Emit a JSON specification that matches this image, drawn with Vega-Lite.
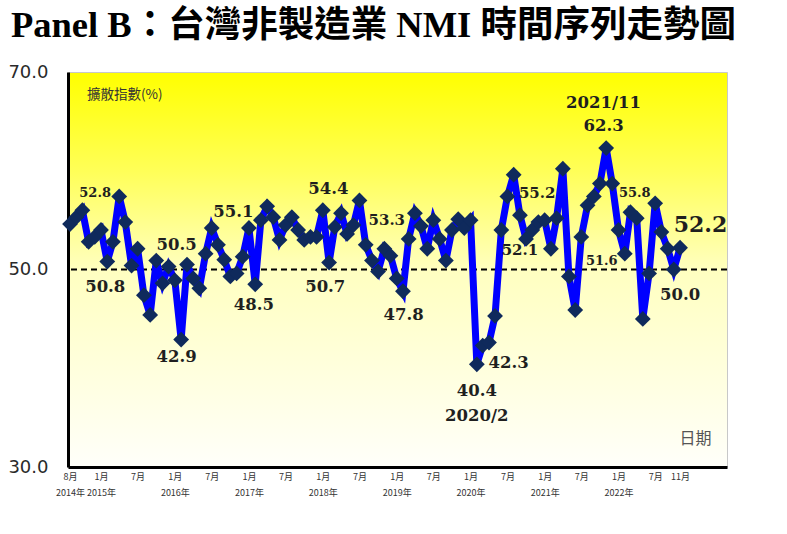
{
  "$schema": "https://vega.github.io/schema/vega-lite/v6.json",
  "width": 659,
  "height": 395,
  "autosize": {"type": "none"},
  "padding": {"left": 68, "top": 72, "right": 60, "bottom": 67},
  "background": "#ffffff",
  "title": {
    "text": "Panel B：台灣非製造業 NMI 時間序列走勢圖",
    "anchor": "start",
    "frame": "group",
    "font": "Liberation Serif, Noto Sans CJK TC",
    "fontSize": 36.5,
    "fontWeight": "bold",
    "color": "#000000",
    "dx": -57,
    "dy": 34,
    "offset": 24,
    "baseline": "alphabetic"
  },
  "config": {
    "view": {
      "stroke": "#c8c8c8",
      "strokeWidth": 1,
      "fill": {
        "gradient": "linear",
        "x1": 0, "y1": 0, "x2": 0, "y2": 1,
        "stops": [
          {"offset": 0, "color": "#ffff00"},
          {"offset": 0.25, "color": "#ffff58"},
          {"offset": 0.5, "color": "#ffffc0"},
          {"offset": 1, "color": "#fffffa"}
        ]
      }
    }
  },
  "datasets": {
    "nmi": [
      {"date": "2014-08-01", "value": 54.6},
      {"date": "2014-09-01", "value": 55.3},
      {"date": "2014-10-01", "value": 56.0},
      {"date": "2014-11-01", "value": 52.8},
      {"date": "2014-12-01", "value": 53.3},
      {"date": "2015-01-01", "value": 54.0},
      {"date": "2015-02-01", "value": 50.8},
      {"date": "2015-03-01", "value": 52.8},
      {"date": "2015-04-01", "value": 57.4},
      {"date": "2015-05-01", "value": 54.8},
      {"date": "2015-06-01", "value": 50.4},
      {"date": "2015-07-01", "value": 52.1},
      {"date": "2015-08-01", "value": 47.4},
      {"date": "2015-09-01", "value": 45.4},
      {"date": "2015-10-01", "value": 50.9},
      {"date": "2015-11-01", "value": 48.6},
      {"date": "2015-12-01", "value": 50.3},
      {"date": "2016-01-01", "value": 48.9},
      {"date": "2016-02-01", "value": 42.9},
      {"date": "2016-03-01", "value": 50.5},
      {"date": "2016-04-01", "value": 49.1},
      {"date": "2016-05-01", "value": 48.1},
      {"date": "2016-06-01", "value": 51.6},
      {"date": "2016-07-01", "value": 54.2},
      {"date": "2016-08-01", "value": 52.5},
      {"date": "2016-09-01", "value": 51.0},
      {"date": "2016-10-01", "value": 49.3},
      {"date": "2016-11-01", "value": 49.6},
      {"date": "2016-12-01", "value": 51.3},
      {"date": "2017-01-01", "value": 54.2},
      {"date": "2017-02-01", "value": 48.5},
      {"date": "2017-03-01", "value": 55.0},
      {"date": "2017-04-01", "value": 56.4},
      {"date": "2017-05-01", "value": 55.3},
      {"date": "2017-06-01", "value": 53.0},
      {"date": "2017-07-01", "value": 54.5},
      {"date": "2017-08-01", "value": 55.3},
      {"date": "2017-09-01", "value": 54.0},
      {"date": "2017-10-01", "value": 53.0},
      {"date": "2017-11-01", "value": 53.3},
      {"date": "2017-12-01", "value": 53.3},
      {"date": "2018-01-01", "value": 56.0},
      {"date": "2018-02-01", "value": 50.7},
      {"date": "2018-03-01", "value": 54.3},
      {"date": "2018-04-01", "value": 55.7},
      {"date": "2018-05-01", "value": 53.6},
      {"date": "2018-06-01", "value": 54.5},
      {"date": "2018-07-01", "value": 57.0},
      {"date": "2018-08-01", "value": 52.5},
      {"date": "2018-09-01", "value": 50.9},
      {"date": "2018-10-01", "value": 49.8},
      {"date": "2018-11-01", "value": 52.1},
      {"date": "2018-12-01", "value": 51.4},
      {"date": "2019-01-01", "value": 49.1},
      {"date": "2019-02-01", "value": 47.8},
      {"date": "2019-03-01", "value": 53.1},
      {"date": "2019-04-01", "value": 55.7},
      {"date": "2019-05-01", "value": 54.4},
      {"date": "2019-06-01", "value": 52.1},
      {"date": "2019-07-01", "value": 55.0},
      {"date": "2019-08-01", "value": 53.1},
      {"date": "2019-09-01", "value": 50.9},
      {"date": "2019-10-01", "value": 54.0},
      {"date": "2019-11-01", "value": 55.1},
      {"date": "2019-12-01", "value": 54.2},
      {"date": "2020-01-01", "value": 55.0},
      {"date": "2020-02-01", "value": 40.4},
      {"date": "2020-03-01", "value": 42.3},
      {"date": "2020-04-01", "value": 42.6},
      {"date": "2020-05-01", "value": 45.3},
      {"date": "2020-06-01", "value": 54.0},
      {"date": "2020-07-01", "value": 57.4},
      {"date": "2020-08-01", "value": 59.6},
      {"date": "2020-09-01", "value": 55.5},
      {"date": "2020-10-01", "value": 53.1},
      {"date": "2020-11-01", "value": 54.0},
      {"date": "2020-12-01", "value": 54.8},
      {"date": "2021-01-01", "value": 55.0},
      {"date": "2021-02-01", "value": 52.1},
      {"date": "2021-03-01", "value": 55.2},
      {"date": "2021-04-01", "value": 60.2},
      {"date": "2021-05-01", "value": 49.3},
      {"date": "2021-06-01", "value": 45.9},
      {"date": "2021-07-01", "value": 53.3},
      {"date": "2021-08-01", "value": 56.5},
      {"date": "2021-09-01", "value": 57.4},
      {"date": "2021-10-01", "value": 58.7},
      {"date": "2021-11-01", "value": 62.3},
      {"date": "2021-12-01", "value": 58.7},
      {"date": "2022-01-01", "value": 54.0},
      {"date": "2022-02-01", "value": 51.6},
      {"date": "2022-03-01", "value": 55.8},
      {"date": "2022-04-01", "value": 55.2},
      {"date": "2022-05-01", "value": 45.0},
      {"date": "2022-06-01", "value": 49.6},
      {"date": "2022-07-01", "value": 56.7},
      {"date": "2022-08-01", "value": 53.8},
      {"date": "2022-09-01", "value": 52.1},
      {"date": "2022-10-01", "value": 50.0},
      {"date": "2022-11-01", "value": 52.2}
    ],
    "labelsMid": [
      {"date": "2015-01-22", "value": 48.2, "text": "50.8"},
      {"date": "2016-01-10", "value": 52.5, "text": "50.5"},
      {"date": "2016-01-10", "value": 41.1, "text": "42.9"},
      {"date": "2016-10-16", "value": 55.8, "text": "55.1"},
      {"date": "2017-01-25", "value": 46.4, "text": "48.5"},
      {"date": "2018-01-28", "value": 58.2, "text": "54.4"},
      {"date": "2018-01-13", "value": 48.2, "text": "50.7"},
      {"date": "2019-02-04", "value": 45.4, "text": "47.8"},
      {"date": "2020-02-01", "value": 37.7, "text": "40.4"},
      {"date": "2020-02-01", "value": 35.2, "text": "2020/2"},
      {"date": "2020-07-07", "value": 40.5, "text": "42.3"},
      {"date": "2021-10-19", "value": 66.85, "text": "2021/11"},
      {"date": "2021-10-19", "value": 64.5, "text": "62.3"},
      {"date": "2022-11-01", "value": 47.4, "text": "50.0"}
    ],
    "labelsSmall": [
      {"date": "2018-11-13", "value": 55.0, "text": "53.3"},
      {"date": "2020-09-01", "value": 52.0, "text": "52.1"},
      {"date": "2020-11-25", "value": 57.7, "text": "55.2"}
    ],
    "labelsTiny": [
      {"date": "2014-12-03", "value": 57.7, "text": "52.8"},
      {"date": "2021-10-10", "value": 50.9, "text": "51.6"},
      {"date": "2022-03-22", "value": 57.7, "text": "55.8"}
    ],
    "labelsBig": [
      {"date": "2023-02-10", "value": 54.5, "text": "52.2"}
    ],
    "notes": [
      {"date": "2015-04-28", "value": 67.7, "text": "擴散指數(%)", "kind": "y"},
      {"date": "2023-01-16", "value": 32.8, "text": "日期", "kind": "x"}
    ]
  },
  "encoding": {
    "x": {
      "field": "date",
      "type": "temporal",
      "scale": {
        "type": "utc",
        "domain": [
          {"year": 2014, "month": "jul", "date": 22, "utc": true},
          {"year": 2023, "month": "jun", "date": 21, "utc": true}
        ]
      },
      "axis": {
        "title": null,
        "values": [
          {"year": 2014, "month": "aug", "date": 1, "utc": true},
          {"year": 2015, "month": "jan", "date": 1, "utc": true},
          {"year": 2015, "month": "jul", "date": 1, "utc": true},
          {"year": 2016, "month": "jan", "date": 1, "utc": true},
          {"year": 2016, "month": "jul", "date": 1, "utc": true},
          {"year": 2017, "month": "jan", "date": 1, "utc": true},
          {"year": 2017, "month": "jul", "date": 1, "utc": true},
          {"year": 2018, "month": "jan", "date": 1, "utc": true},
          {"year": 2018, "month": "jul", "date": 1, "utc": true},
          {"year": 2019, "month": "jan", "date": 1, "utc": true},
          {"year": 2019, "month": "jul", "date": 1, "utc": true},
          {"year": 2020, "month": "jan", "date": 1, "utc": true},
          {"year": 2020, "month": "jul", "date": 1, "utc": true},
          {"year": 2021, "month": "jan", "date": 1, "utc": true},
          {"year": 2021, "month": "jul", "date": 1, "utc": true},
          {"year": 2022, "month": "jan", "date": 1, "utc": true},
          {"year": 2022, "month": "jul", "date": 1, "utc": true},
          {"year": 2022, "month": "nov", "date": 1, "utc": true}
        ],
        "labelExpr": "[(utcmonth(datum.value)+1) + '月', (utcmonth(datum.value)==0 || utcyear(datum.value)==2014) ? utcyear(datum.value) + '年' : '']",
        "labelFont": "Noto Sans CJK TC",
        "labelFontSize": 9,
        "labelLineHeight": 16,
        "labelColor": "#333333",
        "labelPadding": 5,
        "labelFlush": false,
        "labelOverlap": false,
        "ticks": false,
        "grid": false,
        "domainColor": "#000000",
        "domainWidth": 3
      }
    },
    "y": {
      "field": "value",
      "type": "quantitative",
      "scale": {"domain": [30, 70], "nice": false, "zero": false},
      "axis": {
        "title": null,
        "values": [30, 50, 70],
        "format": ".1f",
        "labelFont": "DejaVu Sans",
        "labelFontSize": 18,
        "labelColor": "#2a2a2a",
        "labelPadding": 20,
        "ticks": false,
        "grid": false,
        "domainColor": "#000000",
        "domainWidth": 3
      }
    }
  },
  "layer": [
    {
      "mark": {"type": "rule", "color": "#000000", "strokeWidth": 2, "strokeDash": [6, 4]},
      "data": {"values": [{"ref": 50}]},
      "encoding": {"x": null, "y": {"field": "ref", "type": "quantitative"}}
    },
    {
      "data": {"name": "nmi"},
      "mark": {"type": "line", "color": "#0000ff", "strokeWidth": 7, "strokeJoin": "miter"}
    },
    {
      "data": {"name": "nmi"},
      "mark": {"type": "point", "shape": "diamond", "filled": true, "color": "#0f2a5c", "opacity": 1, "size": 250}
    },
    {
      "data": {"name": "labelsMid"},
      "mark": {"type": "text", "font": "DejaVu Serif", "fontWeight": "bold", "fontSize": 16.5, "color": "#1f1f1f", "align": "center", "baseline": "middle"},
      "encoding": {"text": {"field": "text"}}
    },
    {
      "data": {"name": "labelsSmall"},
      "mark": {"type": "text", "font": "DejaVu Serif", "fontWeight": "bold", "fontSize": 15, "color": "#1f1f1f", "align": "center", "baseline": "middle"},
      "encoding": {"text": {"field": "text"}}
    },
    {
      "data": {"name": "labelsTiny"},
      "mark": {"type": "text", "font": "DejaVu Serif", "fontWeight": "bold", "fontSize": 13, "color": "#1f1f1f", "align": "center", "baseline": "middle"},
      "encoding": {"text": {"field": "text"}}
    },
    {
      "data": {"name": "labelsBig"},
      "mark": {"type": "text", "font": "DejaVu Serif", "fontWeight": "bold", "fontSize": 22, "color": "#1f1f1f", "align": "center", "baseline": "middle"},
      "encoding": {"text": {"field": "text"}}
    },
    {
      "data": {"name": "notes"},
      "transform": [{"filter": "datum.kind == 'y'"}],
      "mark": {"type": "text", "font": "Noto Sans CJK TC", "fontSize": 13.5, "color": "#333333", "align": "center", "baseline": "middle"},
      "encoding": {"text": {"field": "text"}}
    },
    {
      "data": {"name": "notes"},
      "transform": [{"filter": "datum.kind == 'x'"}],
      "mark": {"type": "text", "font": "Noto Sans CJK TC", "fontSize": 16, "color": "#555555", "align": "center", "baseline": "middle"},
      "encoding": {"text": {"field": "text"}}
    }
  ]
}
